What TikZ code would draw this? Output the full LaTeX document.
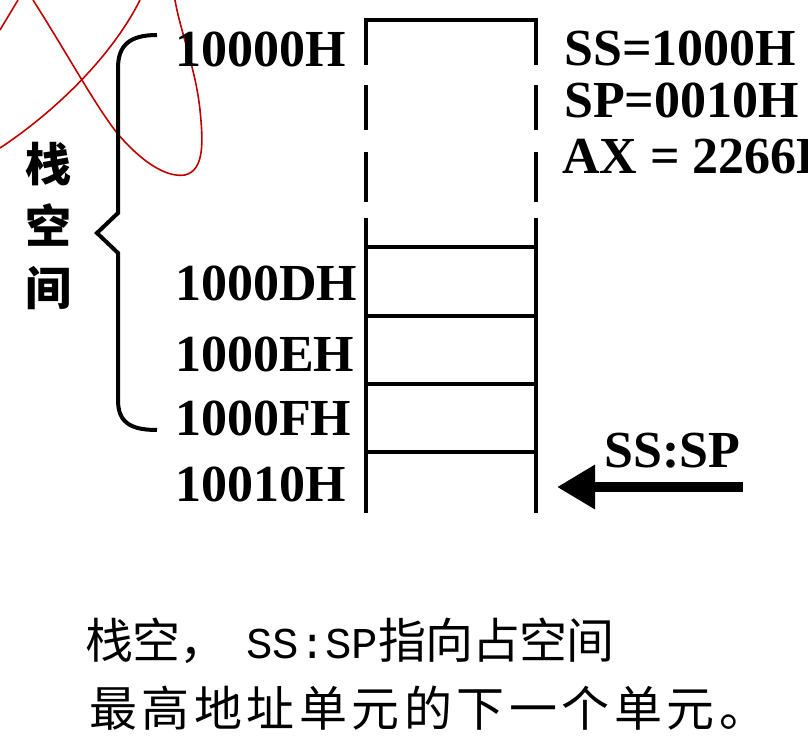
\documentclass[tikz,border=0pt]{standalone}
\usepackage{fontspec}
\setmainfont{Liberation Serif}
\newfontfamily\cjk{Noto Sans CJK SC}
\newfontfamily\monofnt{Liberation Mono}
\usetikzlibrary{arrows.meta}
\newcommand\cka[1]{\makebox[47pt][l]{#1}}
\newcommand\ckb[1]{\makebox[52.5pt][l]{#1}}
\tikzset{
  wall/.style={line width=4.5pt, line cap=butt},
  addr/.style={anchor=west, inner sep=0pt, font=\fontsize{52}{52}\selectfont\bfseries},
  reg/.style={anchor=west, inner sep=0pt, font=\fontsize{52}{52}\selectfont\bfseries},
  annot/.style={draw=red!75!black, line width=1.6pt},
  bracepath/.style={line width=4pt, line join=miter},
  cjklabel/.style={inner sep=0pt, align=center, font=\cjk\bfseries\fontsize{46}{62}\selectfont},
  note/.style={anchor=west, inner sep=0pt, font=\cjk\fontsize{48}{48}\selectfont}
}
\begin{document}
\begin{tikzpicture}[x=1pt,y=-1pt]
\useasboundingbox (0,0) rectangle (808,742);
% red annotation strokes
\draw[annot] (0,148) .. controls (50,115) and (110,60) .. (140,0);
\draw[annot] (33,0) .. controls (65,50) and (95,105) .. (117,133)
  .. controls (140,160) and (165,178) .. (185,175)
  .. controls (205,170) and (203,140) .. (200,110)
  .. controls (196,70) and (180,30) .. (175,0);
\draw[annot] (0,30) -- (18,0);
% stack box
\draw[wall, line join=miter] (366,65) -- (366,20) -- (536,20) -- (536,65);
\foreach \x in {366,536}{
  \draw[wall] (\x,85) -- (\x,130);
  \draw[wall] (\x,152) -- (\x,202);
  \draw[wall] (\x,218) -- (\x,513);
}
\foreach \y in {247,316,384,452}{
  \draw[wall] (366,\y) -- (536,\y);
}
% address labels
\node[addr] (a0) at (175,49) {10000H};
\node[addr] (aD) at (175,283) {1000DH};
\node[addr] (aE) at (175,354) {1000EH};
\node[addr] (aF) at (175,418) {1000FH};
\node[addr] (a10) at (175,484) {10010H};
% register values
\node[reg] (ss) at (564,48) {SS=1000H};
\node[reg] (sp) at (564,100) {SP=0010H};
\node[reg] (ax) at (562,157) {AX = 2266H};
% brace
\draw[bracepath] (157,35) .. controls (130,35) and (118,45) .. (118,68)
  -- (118,213) -- (97,233) -- (118,253) -- (118,400)
  .. controls (118,422) and (130,430) .. (157,430);
\node[cjklabel] (stk) at (48,226) {栈\\空\\间};
% SS:SP pointer
\coordinate (pStart) at (743,487);
\coordinate (pTip) at (557,487);
\draw[line width=10pt, -{Triangle[length=38pt,width=42pt]}] (pStart) -- (pTip);
\node[reg] (sssp) at (604,451) {SS:SP};
% note
\node[note] (n1) at (85,641) {\cka{栈}\cka{空}\cka{，}\hspace{20pt}{\monofnt\fontsize{44}{44}\selectfont SS:SP}\cka{指}\cka{向}\cka{占}\cka{空}\cka{间}};
\node[note] (n2) at (89,708) {\ckb{最}\ckb{高}\ckb{地}\ckb{址}\ckb{单}\ckb{元}\ckb{的}\ckb{下}\ckb{一}\ckb{个}\ckb{单}\ckb{元}\ckb{。}};
\end{tikzpicture}
\end{document}
